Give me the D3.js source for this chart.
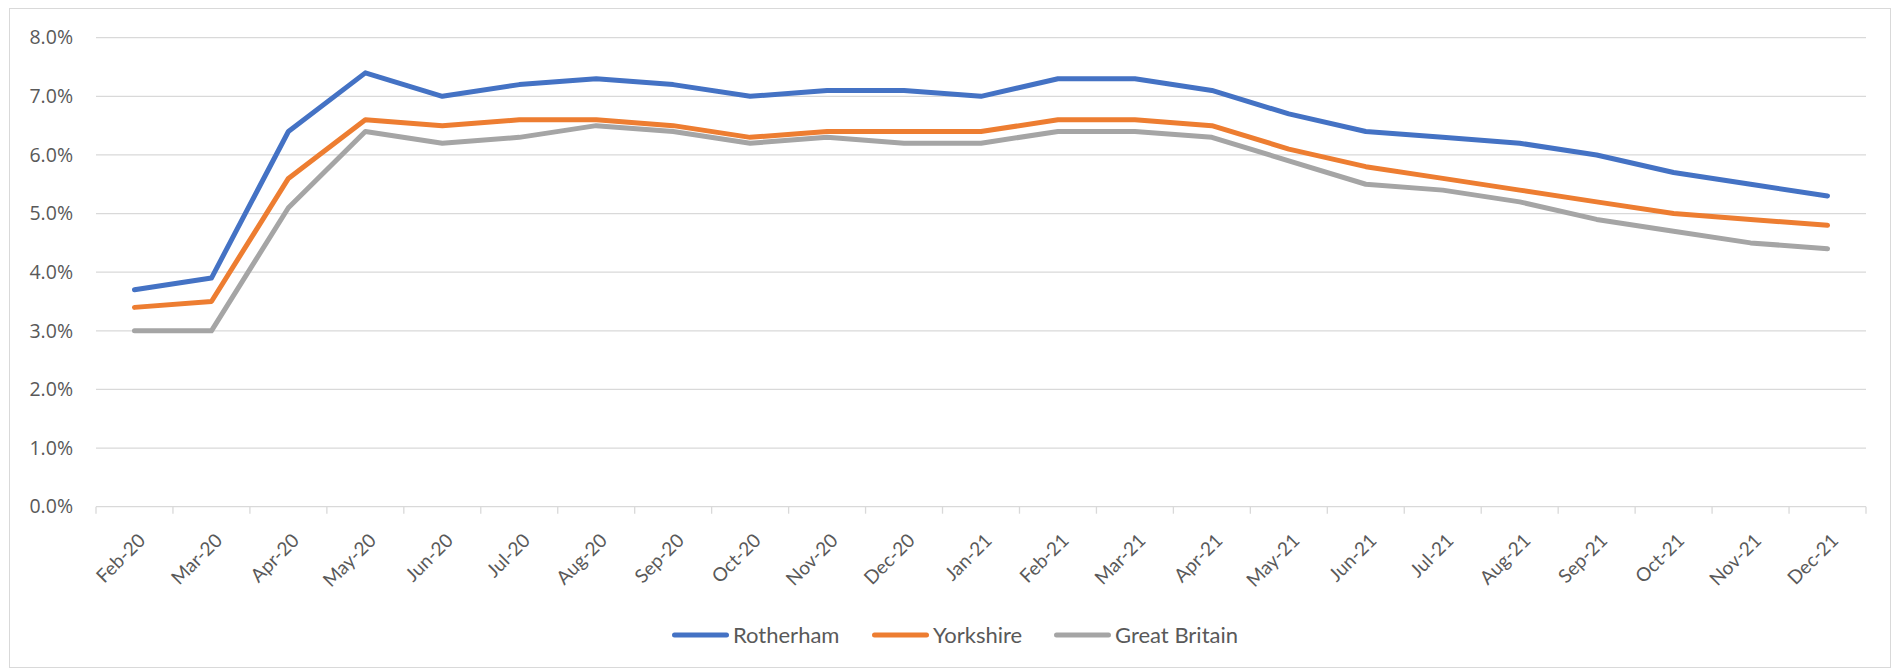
<!DOCTYPE html>
<html><head><meta charset="utf-8">
<script src="https://cdn.jsdelivr.net/npm/d3@7"></script>
<style>body{margin:0;background:#fff;} svg{display:block;}</style>
</head><body>
<svg id="c" width="1892" height="670"></svg>
<script>
const categories = ["Feb-20","Mar-20","Apr-20","May-20","Jun-20","Jul-20","Aug-20","Sep-20","Oct-20","Nov-20","Dec-20","Jan-21","Feb-21","Mar-21","Apr-21","May-21","Jun-21","Jul-21","Aug-21","Sep-21","Oct-21","Nov-21","Dec-21"];
const rotherham = [3.7,3.9,6.4,7.4,7.0,7.2,7.3,7.2,7.0,7.1,7.1,7.0,7.3,7.3,7.1,6.7,6.4,6.3,6.2,6.0,5.7,5.5,5.3];
const yorkshire = [3.4,3.5,5.6,6.6,6.5,6.6,6.6,6.5,6.3,6.4,6.4,6.4,6.6,6.6,6.5,6.1,5.8,5.6,5.4,5.2,5.0,4.9,4.8];
const greatBritain = [3.0,3.0,5.1,6.4,6.2,6.3,6.5,6.4,6.2,6.3,6.2,6.2,6.4,6.4,6.3,5.9,5.5,5.4,5.2,4.9,4.7,4.5,4.4];
const yTicks = [0,1,2,3,4,5,6,7,8];
const seriesNames = ["Rotherham","Yorkshire","Great Britain"];
const seriesColors = ["#4472C4","#ED7D31","#A5A5A5"];
const seriesData = [rotherham, yorkshire, greatBritain];

const svg = d3.select("#c");
const pL = 96, pR = 1866, pT = 37.7, pB = 506.7;

svg.append("rect").attr("x",9.5).attr("y",8.5).attr("width",1881).attr("height",659)
  .attr("fill","#fff").attr("stroke","#d9d9d9").attr("stroke-width",1);

const x = d3.scaleBand().domain(categories).range([pL, pR]).padding(0);
const y = d3.scaleLinear().domain([0, 8]).range([pB, pT]);

// gridlines
svg.append("g").selectAll("line").data(yTicks.filter(d=>d>0)).join("line")
  .attr("x1", pL).attr("x2", pR)
  .attr("y1", d=>y(d)).attr("y2", d=>y(d))
  .attr("stroke","#d9d9d9").attr("stroke-width",1.3);

// y axis labels
const yAxis = d3.axisLeft(y).tickValues(yTicks).tickFormat(d=>d.toFixed(1)+"%").tickSize(0).tickPadding(23);
const gy = svg.append("g").attr("transform",`translate(${pL},0)`).call(yAxis);
gy.select(".domain").remove();
gy.selectAll("text").attr("fill","#595959").style("font-family","'Open Sans', sans-serif").style("font-size","19.5px");

// x axis
const gx = svg.append("g").attr("transform",`translate(0,${pB})`);
gx.append("line").attr("x1",pL).attr("x2",pR).attr("y1",0).attr("y2",0).attr("stroke","#d9d9d9").attr("stroke-width",1.3);
const bounds = categories.map(c=>x(c)).concat([pR]);
gx.selectAll("line.tk").data(bounds).join("line").attr("class","tk")
  .attr("x1",d=>d).attr("x2",d=>d).attr("y1",0).attr("y2",7)
  .attr("stroke","#d9d9d9").attr("stroke-width",1.3);
gx.selectAll("text").data(categories).join("text")
  .attr("transform", d=>`translate(${x(d)+x.bandwidth()/2+12},${35}) rotate(-45)`)
  .attr("text-anchor","end")
  .attr("fill","#595959").style("font-family","Lato, 'Open Sans', sans-serif").style("font-size","19px")
  .text(d=>d);

// lines
const line = d3.line().x((d,i)=>x(categories[i])+x.bandwidth()/2).y(d=>y(d));
seriesData.forEach((s,i)=>{
  svg.append("path").datum(s).attr("d", line).attr("fill","none")
    .attr("stroke", seriesColors[i]).attr("stroke-width",5)
    .attr("stroke-linejoin","round").attr("stroke-linecap","round");
});

// legend
const legX = [672, 872, 1054];
const lg = svg.append("g");
seriesNames.forEach((n,i)=>{
  lg.append("line").attr("x1",legX[i]+2.5).attr("x2",legX[i]+54.5).attr("y1",635).attr("y2",635)
    .attr("stroke",seriesColors[i]).attr("stroke-width",5).attr("stroke-linecap","round");
  lg.append("text").attr("x",legX[i]+61).attr("y",635).attr("dy","0.36em")
    .attr("fill","#595959").style("font-family","Lato, 'Open Sans', sans-serif").style("font-size","22px")
    .text(n);
});
</script>
</body></html>
